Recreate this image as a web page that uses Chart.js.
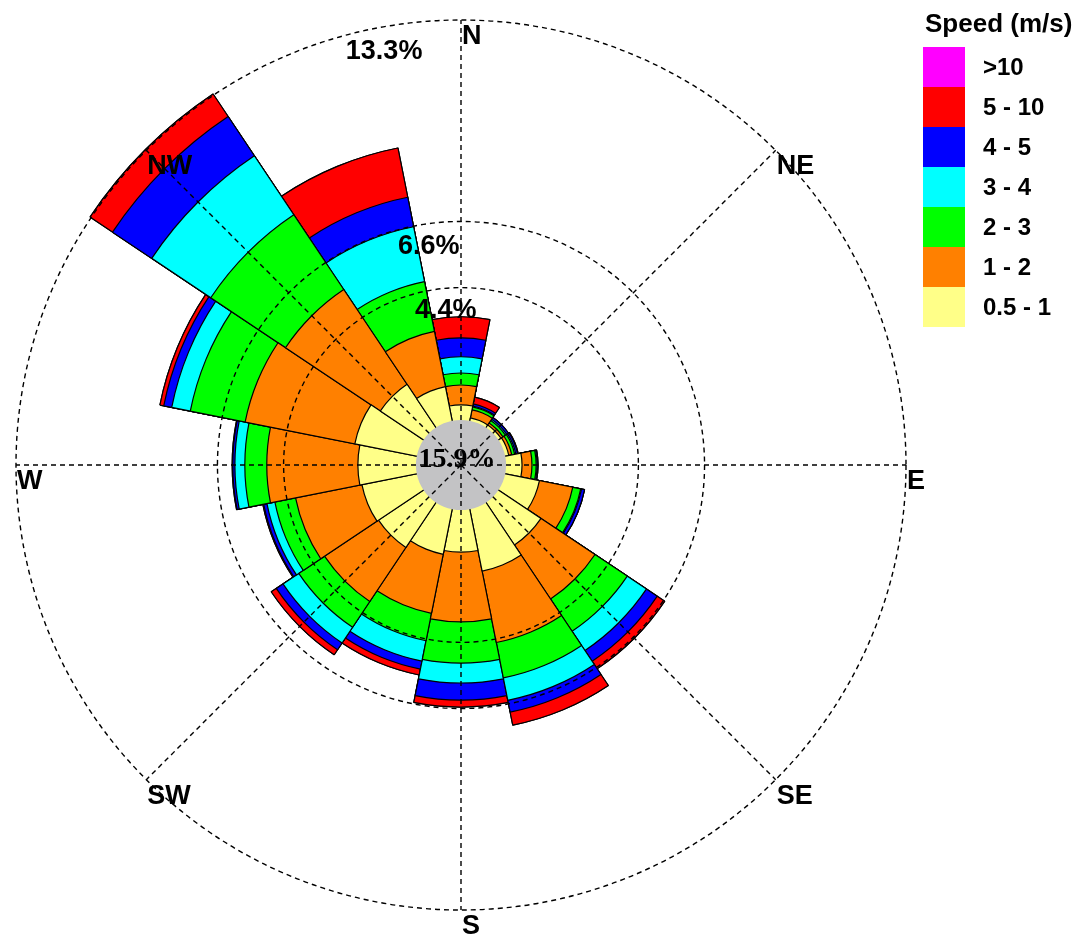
<!DOCTYPE html>
<html>
<head>
<meta charset="utf-8">
<title>Wind rose</title>
<script src="https://cdn.jsdelivr.net/npm/chart.js@4.4.1/dist/chart.umd.min.js"></script>
<style>
  html, body { margin: 0; padding: 0; background: #fff; overflow: hidden; }
  #wrap { position: relative; width: 1077px; height: 938px; }
</style>
</head>
<body>
<div id="wrap"><canvas id="rose"></canvas></div>
<script>
// Sixteen wind sectors, clockwise from north
const directions = ['N','NNE','NE','ENE','E','ESE','SE','SSE','S','SSW','SW','WSW','W','WNW','NW','NNW'];
// Compass points that carry a spoke and a label
const compassLabels = ['N','NE','E','SE','S','SW','W','NW'];

// Frequency (%) of each speed class per sector
const speed05to1  = [0.50,0.10,0.10,0.12,0.53,1.16,1.70,2.10,1.40,1.53,1.80,1.86,1.93,2.10,1.73,1.16];
const speed1to2   = [0.66,0.27,0.08,0.10,0.33,1.13,2.16,2.42,2.32,2.00,2.16,2.25,3.03,3.72,3.79,1.87];
const speed2to3   = [0.40,0.10,0.10,0.10,0.14,0.27,1.29,1.20,1.37,0.93,1.03,0.70,0.73,1.86,2.99,1.69];
const speed3to4   = [0.54,0.03,0.05,0.04,0.03,0.03,0.77,0.76,0.66,0.69,0.63,0.27,0.33,0.63,2.36,1.86];
const speed4to5   = [0.63,0.07,0.07,0.06,0.03,0.10,0.43,0.40,0.57,0.27,0.27,0.11,0.07,0.27,1.57,1.00];
const speed5to10  = [0.70,0.23,0.00,0.02,0.00,0.00,0.30,0.44,0.23,0.20,0.20,0.03,0.02,0.13,0.90,1.67];
const speedOver10 = [0.00,0.00,0.00,0.00,0.00,0.00,0.00,0.00,0.00,0.00,0.00,0.00,0.00,0.00,0.00,0.00];

const speedClasses = ['0.5 - 1','1 - 2','2 - 3','3 - 4','4 - 5','5 - 10','>10'];
const speedColors  = ['#FFFF88','#FF8000','#00FF00','#00FFFF','#0000FF','#FF0000','#FF00FF'];

const calmPercent = 15.9;
const ringValues  = [4.4, 6.6, 13.3];
const ringLabels  = ['4.4%', '6.6%', '13.3%'];
const legendTitle = 'Speed (m/s)';

const speedSeries = [speed05to1, speed1to2, speed2to3, speed3to4, speed4to5, speed5to10, speedOver10];

// Running totals: every class is drawn as a wedge reaching its cumulative share,
// the lighter classes sitting on top of the faster ones.
const cumulative = speedSeries.map((_, k) =>
  directions.map((_, i) => {
    let s = 0;
    for (let j = 0; j <= k; j++) s += speedSeries[j][i];
    return Math.round(s * 1000) / 1000;
  })
);

const datasets = cumulative.map((vals, k) => ({
  label: speedClasses[k],
  data: vals,
  backgroundColor: speedColors[k],
  borderColor: '#000',
  borderWidth: 1.2,
  rAxisID: 'r'
}));

const gridDash = [5, 4];
const gridColor = '#000';
const gridWidth = 1.4;

const roseDecor = {
  id: 'roseDecor',
  afterDatasetsDraw(chart) {
    const s = chart.scales.r;
    const ctx = chart.ctx;
    ctx.save();
    ctx.fillStyle = '#C3C3C5';
    ctx.beginPath();
    ctx.arc(s.xCenter, s.yCenter, s.getDistanceFromCenterForValue(0), 0, Math.PI * 2);
    ctx.fill();
    ctx.restore();
  },
  afterDraw(chart) {
    const s = chart.scales.r;
    const d = chart.scales.rose;
    const ctx = chart.ctx;
    ctx.save();
    ctx.fillStyle = '#000';
    ctx.textBaseline = 'alphabetic';

    // calm share in the hub
    ctx.font = 'bold 28px "Liberation Serif"';
    ctx.textAlign = 'center';
    ctx.fillText(calmPercent.toFixed(1) + '%', s.xCenter - 4, s.yCenter + 2);

    // compass labels hang just below-right of each spoke tip
    ctx.font = 'bold 27px "Liberation Sans"';
    ctx.textAlign = 'left';
    const outer = d.getDistanceFromCenterForValue(d.max);
    compassLabels.forEach((lab, i) => {
      const p = d.getPointPosition(i, outer);
      ctx.fillText(lab, p.x + 1, p.y + 24);
    });

    // ring percentages, placed a little west of north
    ctx.font = 'bold 27px "Liberation Sans"';
    const a = -15 * Math.PI / 180;
    ringValues.forEach((v, i) => {
      const r = s.getDistanceFromCenterForValue(v);
      const x = s.xCenter + r * Math.sin(a);
      const y = s.yCenter - r * Math.cos(a);
      ctx.fillText(ringLabels[i], x, y + 24);
    });

    // speed legend
    ctx.font = 'bold 26px "Liberation Sans"';
    ctx.fillText(legendTitle, 925, 32);
    const boxX = 923, boxW = 42, boxH = 40, top0 = 47;
    ctx.font = 'bold 24px "Liberation Sans"';
    ctx.textBaseline = 'middle';
    for (let n = 0; n < speedClasses.length; n++) {
      const k = speedClasses.length - 1 - n;
      const y = top0 + n * boxH;
      ctx.fillStyle = speedColors[k];
      ctx.fillRect(boxX, y, boxW, boxH);
      ctx.fillStyle = '#000';
      ctx.fillText(speedClasses[k], 983, y + boxH / 2 + 1);
    }
    ctx.restore();
  }
};

new Chart(document.getElementById('rose'), {
  type: 'polarArea',
  data: { labels: directions, datasets },
  options: {
    responsive: true,
    maintainAspectRatio: false,
    animation: false,
    events: [],
    layout: { padding: { left: 16, right: 171, top: 20, bottom: 28 } },
    plugins: { legend: { display: false }, tooltip: { enabled: false } },
    scales: {
      r: {
        type: 'radialLinear',
        startAngle: -11.25,
        min: -1.5,
        max: 13.3,
        afterBuildTicks: (scale) => {
          scale.ticks = [{ value: -1.5 }].concat(ringValues.map(v => ({ value: v })));
        },
        ticks: { display: false },
        pointLabels: { display: false },
        angleLines: { display: false },
        grid: {
          z: 1,
          circular: true,
          lineWidth: gridWidth,
          color: (c) => (c.tick && c.tick.value > 0 ? gridColor : 'rgba(0,0,0,0)')
        },
        border: { dash: gridDash }
      },
      rose: {
        type: 'radialLinear',
        axis: 'r',
        labels: compassLabels,
        startAngle: 0,
        min: -1.5,
        max: 13.3,
        ticks: { display: false },
        pointLabels: { display: false },
        grid: { display: false, z: 1 },
        angleLines: { display: true, color: gridColor, lineWidth: gridWidth, borderDash: gridDash }
      }
    }
  },
  plugins: [roseDecor]
});
</script>
</body>
</html>
